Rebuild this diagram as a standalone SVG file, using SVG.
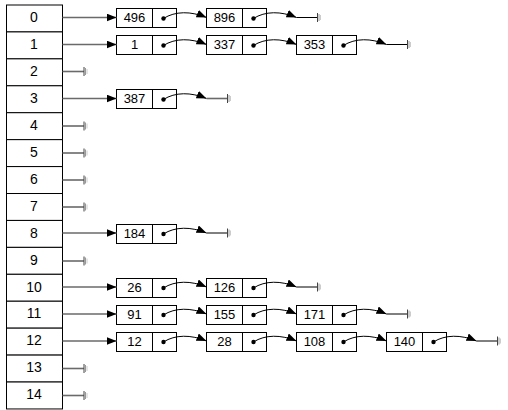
<svg xmlns="http://www.w3.org/2000/svg" width="508" height="410" viewBox="0 0 508 410">
<style>
.cell{fill:#fff;stroke:#000;stroke-width:1}
.idx{font-family:"Liberation Sans",Arial,sans-serif;font-size:14px;text-anchor:middle;fill:#000}
.box{fill:#fff;stroke:#000;stroke-width:1}
.val{font-family:"Liberation Sans",Arial,sans-serif;font-size:13px;text-anchor:middle;fill:#000}
.dot{fill:#000}
.tab{stroke:#6a6a6a;stroke-width:1.6;fill:none}
.cur{stroke:#000;stroke-width:1;fill:none}
.nul{stroke:#000;stroke-width:1;fill:none}
</style>
<defs>
<marker id="ah" markerUnits="userSpaceOnUse" markerWidth="11" markerHeight="9" refX="10" refY="4" orient="auto"><path d="M0,0 L10,4 L0,8 z" fill="#000"/></marker>
<g id="gnd"><line x1="0" y1="-4.5" x2="0" y2="4.5" stroke="#444" stroke-width="1"/><line x1="1.5" y1="-3.5" x2="1.5" y2="3.5" stroke="#999" stroke-width="1"/><line x1="3" y1="-2.5" x2="3" y2="2.5" stroke="#ccc" stroke-width="1"/></g>
</defs>
<rect width="508" height="410" fill="#fff"/>
<g id="table">
<g id="row0"><rect class="cell" x="6.5" y="5" width="56" height="26.93"/><text class="idx" x="34" y="22">0</text></g>
<g id="row1"><rect class="cell" x="6.5" y="31.93" width="56" height="26.93"/><text class="idx" x="34" y="49">1</text></g>
<g id="row2"><rect class="cell" x="6.5" y="58.86" width="56" height="26.93"/><text class="idx" x="34" y="76">2</text></g>
<g id="row3"><rect class="cell" x="6.5" y="85.79" width="56" height="26.93"/><text class="idx" x="34" y="103">3</text></g>
<g id="row4"><rect class="cell" x="6.5" y="112.72" width="56" height="26.93"/><text class="idx" x="34" y="129.5">4</text></g>
<g id="row5"><rect class="cell" x="6.5" y="139.65" width="56" height="26.93"/><text class="idx" x="34" y="156.5">5</text></g>
<g id="row6"><rect class="cell" x="6.5" y="166.58" width="56" height="26.93"/><text class="idx" x="34" y="183.5">6</text></g>
<g id="row7"><rect class="cell" x="6.5" y="193.51" width="56" height="26.93"/><text class="idx" x="34" y="210.5">7</text></g>
<g id="row8"><rect class="cell" x="6.5" y="220.44" width="56" height="26.93"/><text class="idx" x="34" y="237.5">8</text></g>
<g id="row9"><rect class="cell" x="6.5" y="247.37" width="56" height="26.93"/><text class="idx" x="34" y="264.5">9</text></g>
<g id="row10"><rect class="cell" x="6.5" y="274.3" width="56" height="26.93"/><text class="idx" x="34" y="291.5">10</text></g>
<g id="row11"><rect class="cell" x="6.5" y="301.23" width="56" height="26.93"/><text class="idx" x="34" y="318">11</text></g>
<g id="row12"><rect class="cell" x="6.5" y="328.16" width="56" height="26.93"/><text class="idx" x="34" y="345">12</text></g>
<g id="row13"><rect class="cell" x="6.5" y="355.09" width="56" height="26.93"/><text class="idx" x="34" y="372">13</text></g>
<g id="row14"><rect class="cell" x="6.5" y="382.02" width="56" height="26.93"/><text class="idx" x="34" y="399">14</text></g>
</g>
<g id="nodes">
<g id="n0_496"><rect class="box" x="116.5" y="8.5" width="60" height="19"/><line class="box" x1="152.5" y1="8.5" x2="152.5" y2="27.5"/><text class="val" x="134.5" y="21.5">496</text><circle class="dot" cx="163.5" cy="18.5" r="2.2"/></g>
<g id="n0_896"><rect class="box" x="206.5" y="8.5" width="60" height="19"/><line class="box" x1="242.5" y1="8.5" x2="242.5" y2="27.5"/><text class="val" x="224.5" y="21.5">896</text><circle class="dot" cx="253.5" cy="18.5" r="2.2"/></g>

<g id="n1_1"><rect class="box" x="116.5" y="35.5" width="60" height="19"/><line class="box" x1="152.5" y1="35.5" x2="152.5" y2="54.5"/><text class="val" x="134.5" y="48.5">1</text><circle class="dot" cx="163.5" cy="45.5" r="2.2"/></g>
<g id="n1_337"><rect class="box" x="206.5" y="35.5" width="60" height="19"/><line class="box" x1="242.5" y1="35.5" x2="242.5" y2="54.5"/><text class="val" x="224.5" y="48.5">337</text><circle class="dot" cx="253.5" cy="45.5" r="2.2"/></g>
<g id="n1_353"><rect class="box" x="296.5" y="35.5" width="60" height="19"/><line class="box" x1="332.5" y1="35.5" x2="332.5" y2="54.5"/><text class="val" x="314.5" y="48.5">353</text><circle class="dot" cx="343.5" cy="45.5" r="2.2"/></g>

<g id="n3_387"><rect class="box" x="116.5" y="89.5" width="60" height="19"/><line class="box" x1="152.5" y1="89.5" x2="152.5" y2="108.5"/><text class="val" x="134.5" y="102.5">387</text><circle class="dot" cx="163.5" cy="99.5" r="2.2"/></g>

<g id="n8_184"><rect class="box" x="116.5" y="224.5" width="60" height="19"/><line class="box" x1="152.5" y1="224.5" x2="152.5" y2="243.5"/><text class="val" x="134.5" y="237.5">184</text><circle class="dot" cx="163.5" cy="234" r="2.2"/></g>

<g id="n10_26"><rect class="box" x="116.5" y="278.5" width="60" height="19"/><line class="box" x1="152.5" y1="278.5" x2="152.5" y2="297.5"/><text class="val" x="134.5" y="291.5">26</text><circle class="dot" cx="163.5" cy="288" r="2.2"/></g>
<g id="n10_126"><rect class="box" x="206.5" y="278.5" width="60" height="19"/><line class="box" x1="242.5" y1="278.5" x2="242.5" y2="297.5"/><text class="val" x="224.5" y="291.5">126</text><circle class="dot" cx="253.5" cy="288" r="2.2"/></g>

<g id="n11_91"><rect class="box" x="116.5" y="305.5" width="60" height="19"/><line class="box" x1="152.5" y1="305.5" x2="152.5" y2="324.5"/><text class="val" x="134.5" y="318.5">91</text><circle class="dot" cx="163.5" cy="315" r="2.2"/></g>
<g id="n11_155"><rect class="box" x="206.5" y="305.5" width="60" height="19"/><line class="box" x1="242.5" y1="305.5" x2="242.5" y2="324.5"/><text class="val" x="224.5" y="318.5">155</text><circle class="dot" cx="253.5" cy="315" r="2.2"/></g>
<g id="n11_171"><rect class="box" x="296.5" y="305.5" width="60" height="19"/><line class="box" x1="332.5" y1="305.5" x2="332.5" y2="324.5"/><text class="val" x="314.5" y="318.5">171</text><circle class="dot" cx="343.5" cy="315" r="2.2"/></g>

<g id="n12_12"><rect class="box" x="116.5" y="332.5" width="60" height="19"/><line class="box" x1="152.5" y1="332.5" x2="152.5" y2="351.5"/><text class="val" x="134.5" y="345.5">12</text><circle class="dot" cx="163.5" cy="342" r="2.2"/></g>
<g id="n12_28"><rect class="box" x="206.5" y="332.5" width="60" height="19"/><line class="box" x1="242.5" y1="332.5" x2="242.5" y2="351.5"/><text class="val" x="224.5" y="345.5">28</text><circle class="dot" cx="253.5" cy="342" r="2.2"/></g>
<g id="n12_108"><rect class="box" x="296.5" y="332.5" width="60" height="19"/><line class="box" x1="332.5" y1="332.5" x2="332.5" y2="351.5"/><text class="val" x="314.5" y="345.5">108</text><circle class="dot" cx="343.5" cy="342" r="2.2"/></g>
<g id="n12_140"><rect class="box" x="386.5" y="332.5" width="60" height="19"/><line class="box" x1="422.5" y1="332.5" x2="422.5" y2="351.5"/><text class="val" x="404.5" y="345.5">140</text><circle class="dot" cx="433.5" cy="342" r="2.2"/></g>
</g>
<g id="connectors">
<line class="tab" x1="62.5" y1="17.5" x2="116.5" y2="17.5" marker-end="url(#ah)"/>
<line class="tab" x1="62.5" y1="44.5" x2="116.5" y2="44.5" marker-end="url(#ah)"/>
<line class="tab" x1="62.5" y1="98.5" x2="116.5" y2="98.5" marker-end="url(#ah)"/>
<line class="tab" x1="62.5" y1="233" x2="116.5" y2="233" marker-end="url(#ah)"/>
<line class="tab" x1="62.5" y1="287" x2="116.5" y2="287" marker-end="url(#ah)"/>
<line class="tab" x1="62.5" y1="314" x2="116.5" y2="314" marker-end="url(#ah)"/>
<line class="tab" x1="62.5" y1="341" x2="116.5" y2="341" marker-end="url(#ah)"/>
<line class="tab" x1="62.5" y1="71.5" x2="84" y2="71.5"/><use href="#gnd" x="84" y="71.5"/>
<line class="tab" x1="62.5" y1="126" x2="84" y2="126"/><use href="#gnd" x="84" y="126"/>
<line class="tab" x1="62.5" y1="153" x2="84" y2="153"/><use href="#gnd" x="84" y="153"/>
<line class="tab" x1="62.5" y1="180" x2="84" y2="180"/><use href="#gnd" x="84" y="180"/>
<line class="tab" x1="62.5" y1="207" x2="84" y2="207"/><use href="#gnd" x="84" y="207"/>
<line class="tab" x1="62.5" y1="261" x2="84" y2="261"/><use href="#gnd" x="84" y="261"/>
<line class="tab" x1="62.5" y1="368.5" x2="84" y2="368.5"/><use href="#gnd" x="84" y="368.5"/>
<line class="tab" x1="62.5" y1="395.5" x2="84" y2="395.5"/><use href="#gnd" x="84" y="395.5"/>
<path class="cur" d="M163.5,18.5 C175,11 191,11 206.5,17.5" marker-end="url(#ah)"/>
<path class="cur" d="M253.5,18.5 C265,11 281,11 296.5,17.5" marker-end="url(#ah)"/>
<line class="nul" x1="296.5" y1="17.5" x2="317.5" y2="17.5"/><use href="#gnd" x="317.5" y="17.5"/>
<path class="cur" d="M163.5,45.5 C175,38 191,38 206.5,44.5" marker-end="url(#ah)"/>
<path class="cur" d="M253.5,45.5 C265,38 281,38 296.5,44.5" marker-end="url(#ah)"/>
<path class="cur" d="M343.5,45.5 C355,38 371,38 386.5,44.5" marker-end="url(#ah)"/>
<line class="nul" x1="386.5" y1="44.5" x2="407.5" y2="44.5"/><use href="#gnd" x="407.5" y="44.5"/>
<path class="cur" d="M163.5,99.5 C175,92 191,92 206.5,98.5" marker-end="url(#ah)"/>
<line class="tab" x1="206.5" y1="98.5" x2="227.5" y2="98.5"/><use href="#gnd" x="227.5" y="98.5"/>
<path class="cur" d="M163.5,234 C175,226.5 191,226.5 206.5,233" marker-end="url(#ah)"/>
<line class="nul" x1="206.5" y1="233" x2="227.5" y2="233"/><use href="#gnd" x="227.5" y="233"/>
<path class="cur" d="M163.5,288 C175,280.5 191,280.5 206.5,287" marker-end="url(#ah)"/>
<path class="cur" d="M253.5,288 C265,280.5 281,280.5 296.5,287" marker-end="url(#ah)"/>
<line class="nul" x1="296.5" y1="287" x2="317.5" y2="287"/><use href="#gnd" x="317.5" y="287"/>
<path class="cur" d="M163.5,315 C175,307.5 191,307.5 206.5,314" marker-end="url(#ah)"/>
<path class="cur" d="M253.5,315 C265,307.5 281,307.5 296.5,314" marker-end="url(#ah)"/>
<path class="cur" d="M343.5,315 C355,307.5 371,307.5 386.5,314" marker-end="url(#ah)"/>
<line class="nul" x1="386.5" y1="314" x2="407.5" y2="314"/><use href="#gnd" x="407.5" y="314"/>
<path class="cur" d="M163.5,342 C175,334.5 191,334.5 206.5,341" marker-end="url(#ah)"/>
<path class="cur" d="M253.5,342 C265,334.5 281,334.5 296.5,341" marker-end="url(#ah)"/>
<path class="cur" d="M343.5,342 C355,334.5 371,334.5 386.5,341" marker-end="url(#ah)"/>
<path class="cur" d="M433.5,342 C445,334.5 461,334.5 476.5,341" marker-end="url(#ah)"/>
<line class="nul" x1="476.5" y1="341" x2="497.5" y2="341"/><use href="#gnd" x="497.5" y="341"/>
</g>
</svg>
